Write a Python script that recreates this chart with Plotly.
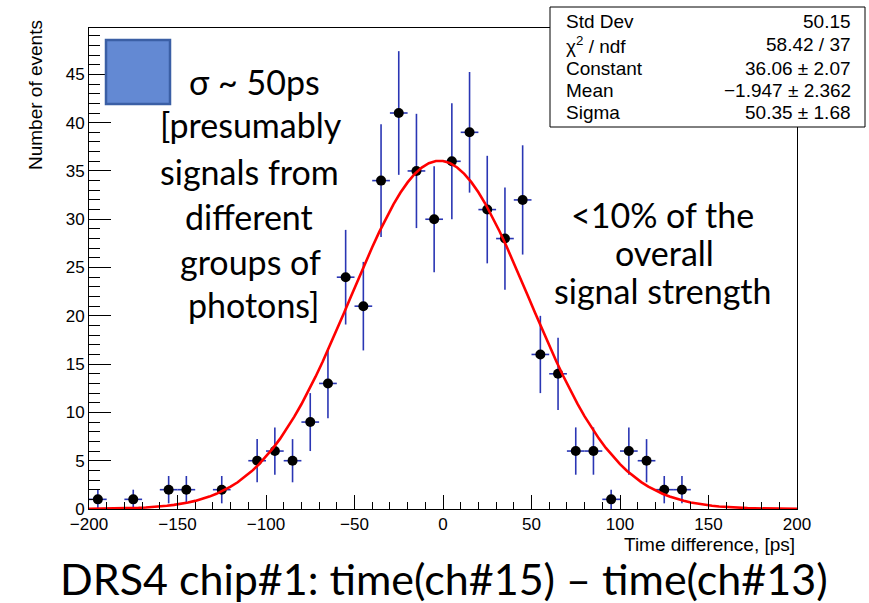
import math
import plotly.graph_objects as go

# ---------------- data ----------------
bin_centers = [-195, -175, -155, -145, -125, -105, -95, -85, -75, -65, -55, -45,
               -35, -25, -15, -5, 5, 15, 25, 35, 45, 55, 65, 75, 85, 95, 105,
               115, 125, 135]
counts = [1, 1, 2, 2, 2, 5, 6, 5, 9, 13, 24, 21,
          34, 41, 35, 30, 36, 39, 31, 28, 32, 16, 14, 6, 6, 1, 6,
          5, 2, 2]
bin_half_width = 5

# fit parameters (from stats box)
fit_constant = 36.06
fit_mean = -1.947
fit_sigma = 50.35
fit_npx = 100
x_min, x_max = -200, 200

stats_labels = ["Std Dev", "χ<sup>2</sup> / ndf", "Constant", "Mean", "Sigma"]
stats_values = ["50.15", "58.42 / 37", "36.06 ± 2.07", "−1.947 ± 2.362", "50.35 ± 1.68"]

left_note = ["σ ~ 50ps", "[presumably", "signals from", "different", "groups of", "photons]"]
right_note = ["<10% of the", "overall", "signal strength"]
bottom_title = "DRS4 chip#1: time(ch#15) – time(ch#13)"
x_title = "Time difference, [ps]"
y_title = "Number of events"

# ---------------- layout geometry ----------------
W, H = 869, 603
L, R, T, B = 89, 797, 28, 509  # plot frame in pixels


def px(x):
    return (x - L) / (R - L)


def py(y):
    return (B - y) / (B - T)


errors = [math.sqrt(c) for c in counts]
fit_x = [x_min + i * (x_max - x_min) / fit_npx for i in range(fit_npx + 1)]
fit_y = [fit_constant * math.exp(-0.5 * ((v - fit_mean) / fit_sigma) ** 2) for v in fit_x]

fig = go.Figure()
fig.add_trace(go.Scatter(
    x=bin_centers, y=counts, mode="markers",
    marker=dict(color="black", size=10, symbol="circle"),
    error_y=dict(type="data", array=errors, color="#2a36b4", thickness=1.6, width=0),
    error_x=dict(type="constant", value=bin_half_width, color="#2a36b4", thickness=1.6, width=0),
    showlegend=False, hoverinfo="x+y",
))
fig.add_trace(go.Scatter(
    x=fit_x, y=fit_y, mode="lines",
    line=dict(color="#ff0000", width=2.6),
    showlegend=False, hoverinfo="skip",
))

tick_font = dict(family="Liberation Sans, Arial, sans-serif", size=17, color="black")
fig.update_layout(
    width=W, height=H,
    margin=dict(l=L, r=W - R, t=T, b=H - B, pad=0),
    paper_bgcolor="white", plot_bgcolor="white",
    xaxis=dict(
        range=[x_min, x_max], dtick=50, tick0=0, ticks="inside", ticklen=14,
        tickwidth=1, tickcolor="black", showgrid=False, zeroline=False,
        showline=True, linecolor="black", linewidth=1, mirror=True,
        tickfont=tick_font, tickformat="d",
        minor=dict(dtick=10, ticks="inside", ticklen=7, tickcolor="black", showgrid=False),
    ),
    yaxis=dict(
        range=[0, 49.8], dtick=5, tick0=0, ticks="inside", ticklen=22,
        tickwidth=1, tickcolor="black", showgrid=False, zeroline=False,
        showline=True, linecolor="black", linewidth=1, mirror=True,
        tickfont=tick_font,
        minor=dict(dtick=1, ticks="inside", ticklen=11, tickcolor="black", showgrid=False),
    ),
)

shapes = []
# blue square
shapes.append(dict(type="rect", xref="paper", yref="paper",
                   x0=px(106), x1=px(170), y0=py(104), y1=py(40),
                   fillcolor="#6389d3", line=dict(color="#3b5fa5", width=2.5),
                   layer="above"))
# stats box
shapes.append(dict(type="rect", xref="paper", yref="paper",
                   x0=px(550), x1=px(865), y0=py(127), y1=py(7),
                   fillcolor="white", line=dict(color="black", width=1),
                   layer="above"))
fig.update_layout(shapes=shapes)

ann = []
stat_font = dict(family="Liberation Sans, Arial, sans-serif", size=19, color="black")
stat_baselines = [28, 51.5, 75, 97, 119]
for lab, val, bl in zip(stats_labels, stats_values, stat_baselines):
    yc = py(bl - 0.35 * 19)
    ann.append(dict(text=lab, x=px(564), y=yc, xref="paper", yref="paper",
                    xanchor="left", yanchor="middle", showarrow=False, font=stat_font))
    ann.append(dict(text=val, x=px(853), y=yc, xref="paper", yref="paper",
                    xanchor="right", yanchor="middle", showarrow=False, font=stat_font))

fs_l = 34
note_font_l = dict(family="Lato, sans-serif", size=fs_l, color="black")
left_baselines = [94, 137, 184, 229, 274, 317]
left_centers = [254, 251, 249, 249, 250, 253]
for t, bl, cx in zip(left_note, left_baselines, left_centers):
    ann.append(dict(text=t, x=px(cx), y=py(bl - 0.387 * fs_l + 1), xref="paper", yref="paper",
                    xanchor="center", yanchor="middle", showarrow=False, font=note_font_l))

fs_r = 34
note_font_r = dict(family="Lato, sans-serif", size=fs_r, color="black")
right_baselines = [227, 265, 303]
right_centers = [662, 664, 663]
for t, bl, cx in zip(right_note, right_baselines, right_centers):
    ann.append(dict(text=t, x=px(cx), y=py(bl - 0.387 * fs_r + 1), xref="paper", yref="paper",
                    xanchor="center", yanchor="middle", showarrow=False, font=note_font_r))

fs_t = 43
ann.append(dict(text=bottom_title, x=px(444), y=py(594 - 0.387 * fs_t + 1), xref="paper", yref="paper",
                xanchor="center", yanchor="middle", showarrow=False,
                font=dict(family="Lato, sans-serif", size=fs_t, color="black")))

ann.append(dict(text=x_title, x=px(797), y=py(551 - 0.35 * 19), xref="paper", yref="paper",
                xanchor="right", yanchor="middle", showarrow=False, font=stat_font))
ann.append(dict(text=y_title, x=px(35), y=py(18), xref="paper", yref="paper",
                xanchor="center", yanchor="top", textangle=-90, showarrow=False, font=stat_font))
fig.update_layout(annotations=ann)

fig.write_html("out.html")
